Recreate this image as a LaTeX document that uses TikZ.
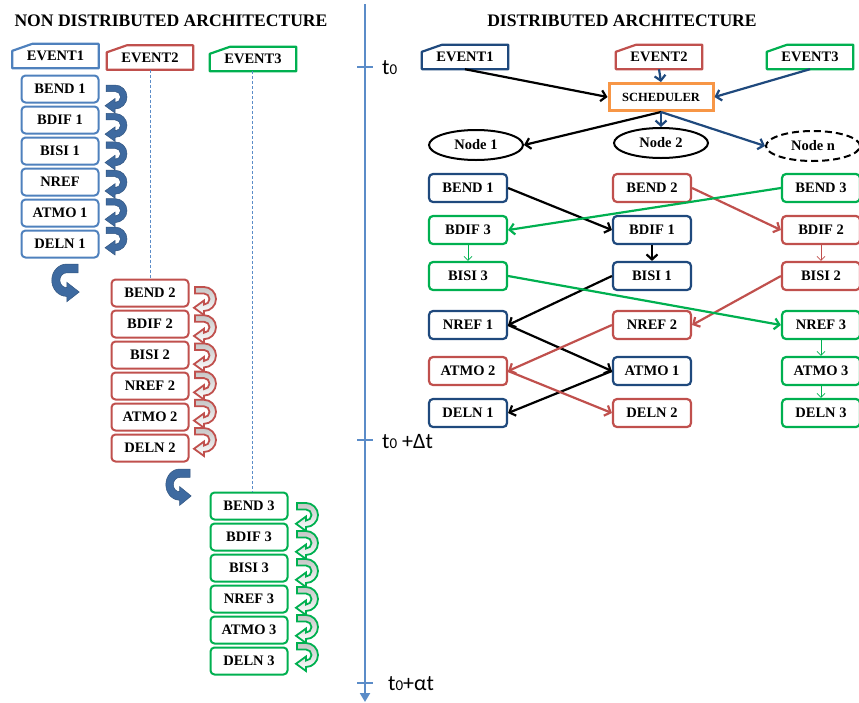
\documentclass[tikz,border=0pt]{standalone}
\usepackage{fontspec}
\setmainfont{Liberation Serif}
\newfontfamily\axisfont{Carlito}
\usetikzlibrary{arrows.meta,shapes.geometric}
\definecolor{cblue}{RGB}{79,129,189}
\definecolor{cred}{RGB}{192,80,77}
\definecolor{cgreen}{RGB}{0,176,80}
\definecolor{cnavy}{RGB}{31,73,125}
\definecolor{corange}{RGB}{247,150,70}
\definecolor{cturn}{RGB}{62,106,160}
\definecolor{caxis}{RGB}{91,140,200}
\tikzstyle{bx}=[draw,rounded corners=4pt,line width=2pt,minimum width=77pt,minimum height=27pt,inner sep=0pt,fill=white,font=\fontsize{14.5}{16}\selectfont\bfseries]
\tikzstyle{rbx}=[bx,minimum width=78pt,minimum height=28pt,line width=2.2pt]
\tikzstyle{ev}=[minimum width=86pt,minimum height=24pt,inner sep=0pt,font=\fontsize{14.5}{16}\selectfont\bfseries]
\tikzstyle{evline}=[line width=2.2pt,line join=round]
\tikzstyle{nd}=[ellipse,draw,line width=2pt,minimum width=94pt,minimum height=30pt,inner sep=0pt,font=\fontsize{14.5}{16}\selectfont\bfseries]
\tikzstyle{arr}=[line width=2.2pt,-{Straight Barb[length=5pt,width=11pt]}]
\tikzstyle{tarr}=[line width=0.8pt,-{Straight Barb[length=4pt,width=8pt]}]
\tikzstyle{title}=[font=\fontsize{17.6}{20}\selectfont\bfseries]
\tikzstyle{tlab}=[font=\axisfont\fontsize{22}{24}\selectfont,anchor=west,inner sep=1pt]
\tikzstyle{dashln}=[caxis,dash pattern=on 3pt off 2pt,line width=0.7pt]
\tikzstyle{turnblue}=[fill=cturn,draw=cturn!80!black,line width=0.5pt]
\tikzstyle{turnred}=[top color=gray!45,bottom color=white,draw=cred,line width=1.8pt]
\tikzstyle{turngreen}=[top color=gray!45,bottom color=white,draw=cgreen,line width=1.8pt]
\tikzset{uturn/.pic={
  \path[pic actions] (0,0) -- (9,0) arc[start angle=-90,end angle=90,radius=12] -- (9,28) -- (-1,20.75)
    -- (9,13.5) -- (9,17.5) arc[start angle=90,end angle=-90,radius=5.5] -- (9,6.5) -- (0,6.5) -- cycle;}}
\newcommand{\evframe}[2]{\draw[evline,#2] ([xshift=20pt]#1.north west) -- (#1.north east) -- (#1.south east)
  -- (#1.south west) -- ([yshift=-7pt]#1.north west) -- cycle;}

\begin{document}
\begin{tikzpicture}[x=1pt,y=-1pt]
\useasboundingbox (0,0) rectangle (859,702);

% time axis
\coordinate (atop) at (365,4);
\coordinate (abot) at (365,702);
\draw[caxis,line width=2pt,-{Triangle[length=9pt,width=10pt]}] (atop) -- (abot);
\draw[caxis,line width=2pt] (357,67) -- (373,67);
\draw[caxis,line width=2pt] (357,440) -- (373,440);
\draw[caxis,line width=2pt] (357,683) -- (373,683);
\node[tlab] (ta) at (381,68) {t{\fontsize{15}{15}\selectfont 0}};
\node[tlab] (tb) at (381,442) {t{\fontsize{15}{15}\selectfont 0} +Δt};
\node[tlab] (tc) at (387,684) {t{\fontsize{15}{15}\selectfont 0}+αt};

% non distributed
\node[title] (tl) at (171,21) {NON DISTRIBUTED ARCHITECTURE};
\node[ev] (ev1l) at (55.5,56) {EVENT1};
\node[ev] (ev2l) at (150,57.5) {EVENT2};
\node[ev] (ev3l) at (253,59) {EVENT3};
\evframe{ev1l}{cblue}
\evframe{ev2l}{cred}
\evframe{ev3l}{cgreen}

\node[bx,draw=cblue] (a1) at (60,89) {BEND 1};
\node[bx,draw=cblue] (a2) at (60,120) {BDIF 1};
\node[bx,draw=cblue] (a3) at (60,151) {BISI 1};
\node[bx,draw=cblue] (a4) at (60,182) {NREF};
\node[bx,draw=cblue] (a5) at (60,213) {ATMO 1};
\node[bx,draw=cblue] (a6) at (60,244) {DELN 1};

\node[bx,draw=cred] (b1) at (150,293) {BEND 2};
\node[bx,draw=cred] (b2) at (150,324) {BDIF 2};
\node[bx,draw=cred] (b3) at (150,355) {BISI 2};
\node[bx,draw=cred] (b4) at (150,386) {NREF 2};
\node[bx,draw=cred] (b5) at (150,417) {ATMO 2};
\node[bx,draw=cred] (b6) at (150,448) {DELN 2};

\node[bx,draw=cgreen] (c1) at (249,506) {BEND 3};
\node[bx,draw=cgreen] (c2) at (249,537) {BDIF 3};
\node[bx,draw=cgreen] (c3) at (249,568) {BISI 3};
\node[bx,draw=cgreen] (c4) at (249,599) {NREF 3};
\node[bx,draw=cgreen] (c5) at (249,630) {ATMO 3};
\node[bx,draw=cgreen] (c6) at (249,661) {DELN 3};

\draw[dashln] (ev2l.south) -- (b1.north);
\draw[dashln] ([xshift=-1pt]ev3l.south) -- ([xshift=-1pt]ev3l.south |- c1.north);

\pic[turnblue] at (106,85) {uturn};
\pic[turnblue] at (106,113.4) {uturn};
\pic[turnblue] at (106,141.8) {uturn};
\pic[turnblue] at (106,170.2) {uturn};
\pic[turnblue] at (106,198.6) {uturn};
\pic[turnblue] at (106,227) {uturn};
\pic[turnblue,xscale=-1.25,yscale=1.35] at (78,264) {uturn};

\pic[turnred] at (195,287) {uturn};
\pic[turnred] at (195,315.2) {uturn};
\pic[turnred] at (195,343.4) {uturn};
\pic[turnred] at (195,371.6) {uturn};
\pic[turnred] at (195,399.8) {uturn};
\pic[turnred] at (195,428) {uturn};
\pic[turnblue,xscale=-1.15,yscale=1.3] at (190,469) {uturn};

\pic[turngreen] at (297,503) {uturn};
\pic[turngreen] at (297,531) {uturn};
\pic[turngreen] at (297,559) {uturn};
\pic[turngreen] at (297,587) {uturn};
\pic[turngreen] at (297,615) {uturn};
\pic[turngreen] at (297,643) {uturn};

% distributed
\node[title] (tr) at (622,21) {DISTRIBUTED ARCHITECTURE};
\node[ev] (ev1r) at (465,57) {EVENT1};
\node[ev] (ev2r) at (659,57) {EVENT2};
\node[ev] (ev3r) at (810,57) {EVENT3};
\evframe{ev1r}{cnavy}
\evframe{ev2r}{cred}
\evframe{ev3r}{cgreen}
\node[draw=corange,line width=3pt,minimum width=104pt,minimum height=27pt,inner sep=0pt,font=\fontsize{12.5}{14}\selectfont\bfseries] (sch) at (661,97) {SCHEDULER};
\node[nd] (n1) at (476,145) {Node 1};
\node[nd] (n2) at (661,143) {Node 2};
\node[nd,dashed,dash pattern=on 7pt off 4pt] (nn) at (813,146) {Node n};

\draw[arr] (ev1r.south) -- (sch.west);
\draw[arr,cnavy] (ev2r.south) -- (sch.north);
\draw[arr,cnavy] (ev3r.south) -- (sch.east);
\draw[arr] (sch.south) -- (n1.east);
\draw[arr,cnavy] (sch.south) -- (n2.north);
\draw[arr,cnavy] (sch.south) -- (nn.west);

\node[rbx,draw=cnavy] (p1) at (468,188) {BEND 1};
\node[rbx,draw=cgreen] (p2) at (468,230) {BDIF 3};
\node[rbx,draw=cgreen] (p3) at (468,276) {BISI 3};
\node[rbx,draw=cnavy] (p4) at (468,325) {NREF 1};
\node[rbx,draw=cred] (p5) at (468,371) {ATMO 2};
\node[rbx,draw=cnavy] (p6) at (468,413) {DELN 1};

\node[rbx,draw=cred] (q1) at (652,188) {BEND 2};
\node[rbx,draw=cnavy] (q2) at (652,230) {BDIF 1};
\node[rbx,draw=cnavy] (q3) at (652,276) {BISI 1};
\node[rbx,draw=cred] (q4) at (652,325) {NREF 2};
\node[rbx,draw=cnavy] (q5) at (652,371) {ATMO 1};
\node[rbx,draw=cred] (q6) at (652,413) {DELN 2};

\node[rbx,draw=cgreen] (r1) at (821,188) {BEND 3};
\node[rbx,draw=cred] (r2) at (821,230) {BDIF 2};
\node[rbx,draw=cred] (r3) at (821,276) {BISI 2};
\node[rbx,draw=cgreen] (r4) at (821,325) {NREF 3};
\node[rbx,draw=cgreen] (r5) at (821,371) {ATMO 3};
\node[rbx,draw=cgreen] (r6) at (821,413) {DELN 3};

\draw[arr] (p1.east) -- (q2.west);
\draw[arr] (q2.south) -- (q3.north);
\draw[arr] (q3.west) -- (p4.east);
\draw[arr] (p4.east) -- (q5.west);
\draw[arr] (q5.west) -- (p6.east);
\draw[arr,cred] (q1.east) -- (r2.west);
\draw[tarr,cred] (r2.south) -- (r3.north);
\draw[arr,cred] (r3.west) -- (q4.east);
\draw[arr,cred] (q4.west) -- (p5.east);
\draw[arr,cred] (p5.east) -- (q6.west);
\draw[arr,cgreen] (r1.west) -- (p2.east);
\draw[tarr,cgreen] (p2.south) -- (p3.north);
\draw[arr,cgreen] (p3.east) -- (r4.west);
\draw[tarr,cgreen] (r4.south) -- (r5.north);
\draw[tarr,cgreen] (r5.south) -- (r6.north);
\end{tikzpicture}
\end{document}
